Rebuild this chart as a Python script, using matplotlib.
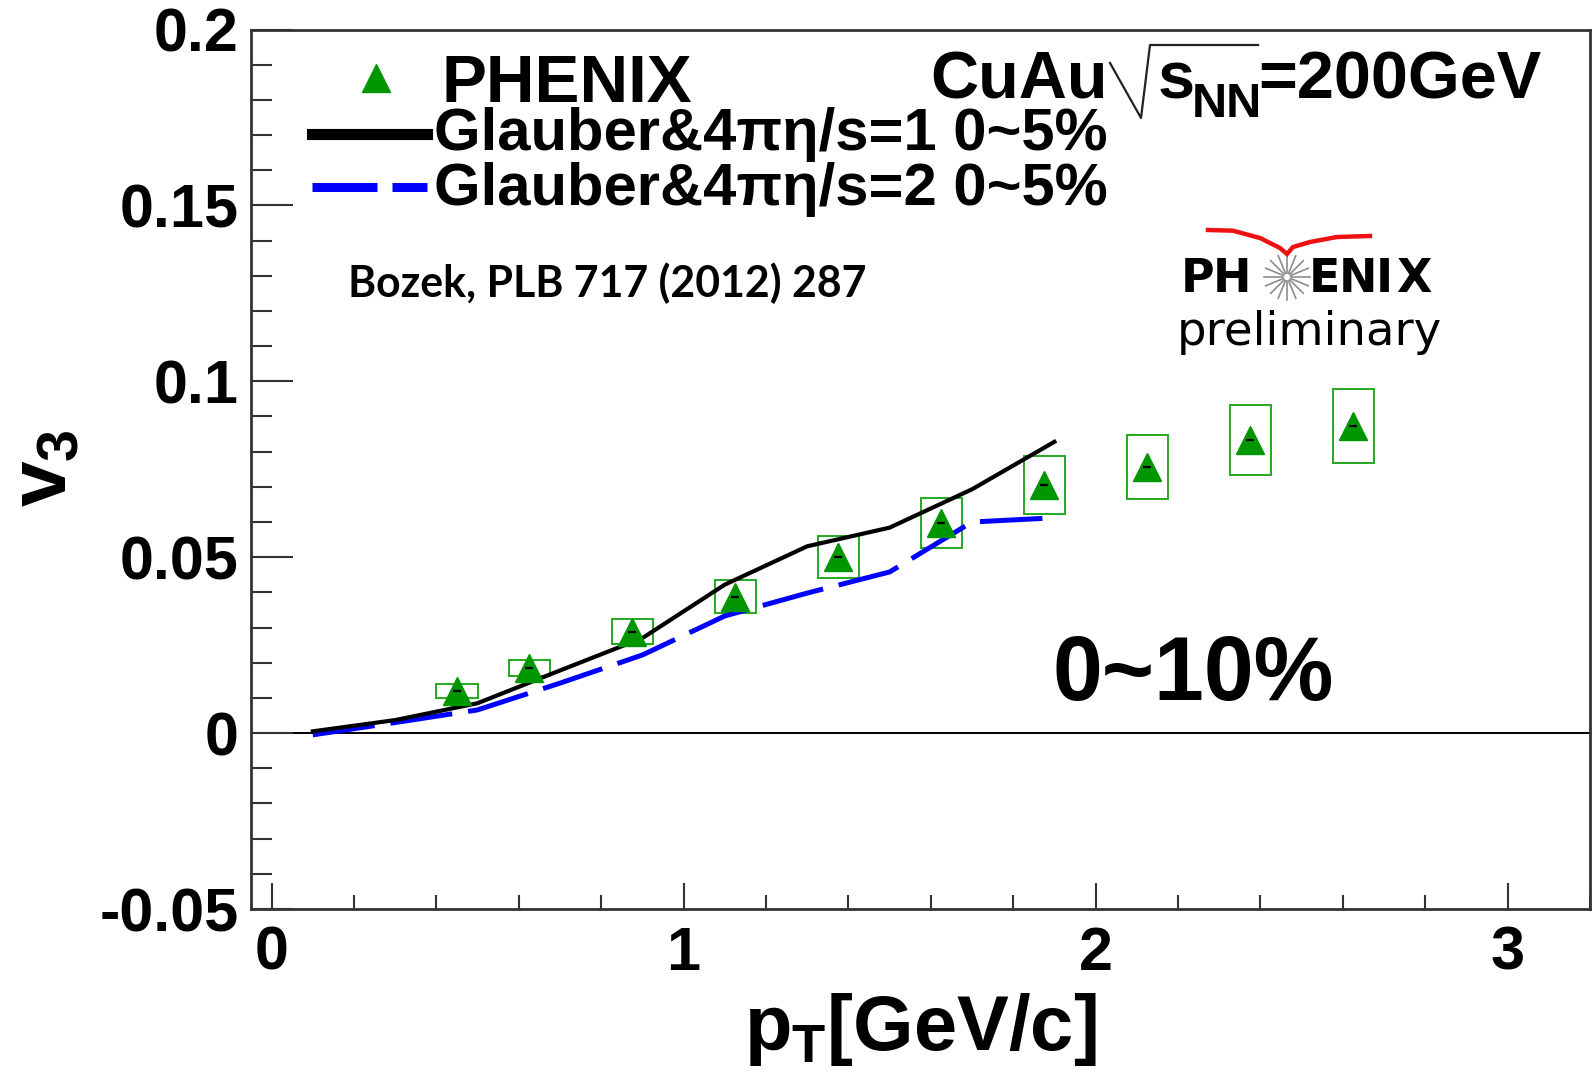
import numpy as np
import matplotlib
matplotlib.use('Agg')
import matplotlib.pyplot as plt
from matplotlib.patches import Rectangle
from matplotlib.lines import Line2D
from matplotlib.ticker import MultipleLocator

plt.rcParams['font.family'] = ['Liberation Sans', 'DejaVu Sans']
plt.rcParams['font.weight'] = 'bold'
plt.rcParams['mathtext.fontset'] = 'custom'
plt.rcParams['mathtext.rm'] = 'Liberation Sans:bold'
plt.rcParams['mathtext.it'] = 'Liberation Sans:bold'
plt.rcParams['mathtext.bf'] = 'Liberation Sans:bold'
plt.rcParams['mathtext.sf'] = 'Liberation Sans:bold'

# PHENIX CuAu v3, 0~10%
ptData = [0.45, 0.625, 0.875, 1.125, 1.375, 1.625, 1.875, 2.125, 2.375, 2.625]
v3Data = [0.0120, 0.0185, 0.0288, 0.0388, 0.0501, 0.0597, 0.0705, 0.0756, 0.0834, 0.0872]
v3Sys = [0.0019, 0.0023, 0.0035, 0.0047, 0.0059, 0.0071, 0.0083, 0.0090, 0.0100, 0.0105]
boxHalfWidth = 0.05

# Bozek hydro, Glauber 0~5%
ptTheory = [0.1, 0.3, 0.5, 0.7, 0.9, 1.1, 1.3, 1.5, 1.7, 1.9]
v3Eta1 = [0.0005, 0.0037, 0.0085, 0.0178, 0.0270, 0.0422, 0.0531, 0.0584, 0.0693, 0.0828]
v3Eta2 = [-0.0005, 0.0030, 0.0066, 0.0142, 0.0222, 0.0333, 0.0398, 0.0458, 0.0600, 0.0612]

xTicks = [0, 1, 2, 3]
yTicks = [-0.05, 0, 0.05, 0.1, 0.15, 0.2]
yTickLabels = ['-0.05', '0', '0.05', '0.1', '0.15', '0.2']

W, H = 1593, 1077
green = '#009600'
boxGreen = '#22aa22'


def px(x, y):
    # pixel position (from top left) -> figure fraction
    return x / W, 1 - y / H


def figline(xs, ys, **kw):
    pts = [px(a, b) for a, b in zip(xs, ys)]
    fig.add_artist(Line2D([p[0] for p in pts], [p[1] for p in pts],
                          transform=fig.transFigure, **kw))


fig = plt.figure(figsize=(W / 100, H / 100), dpi=100)
ax = fig.add_axes([251 / W, 1 - 909 / H, (1590 - 251) / W, (909 - 29.5) / H])
ax.set_xlim(-0.05, 3.2)
ax.set_ylim(-0.05, 0.2)

for s in ax.spines.values():
    s.set_linewidth(2)
    s.set_color('#333333')

ax.set_xticks(xTicks)
ax.set_xticklabels([str(t) for t in xTicks])
ax.set_yticks(yTicks)
ax.set_yticklabels(yTickLabels)
ax.xaxis.set_minor_locator(MultipleLocator(0.2))
ax.yaxis.set_minor_locator(MultipleLocator(0.01))
ax.tick_params(axis='both', which='both', direction='in', color='#333333', width=1.5,
               labelsize=44, top=False, right=False)
ax.tick_params(axis='y', which='major', length=30, pad=9)
ax.tick_params(axis='y', which='minor', length=15)
ax.tick_params(axis='x', which='major', length=19, pad=12)
ax.tick_params(axis='x', which='minor', length=10)

ax.axhline(0, color='black', lw=1.4, zorder=1)

# systematic boxes
for x, y, e in zip(ptData, v3Data, v3Sys):
    ax.add_patch(Rectangle((x - boxHalfWidth, y - e), 2 * boxHalfWidth, 2 * e,
                           fill=False, edgecolor=boxGreen, lw=1.4, zorder=2))

ax.plot(ptTheory, v3Eta2, color='#0000ff', lw=3.6, dashes=(12.5, 3.2), zorder=3)
ax.plot(ptTheory, v3Eta1, color='black', lw=3, zorder=4)

ax.plot(ptData, v3Data, ls='none', marker='^', ms=19.5, color=green, mec=green, zorder=5)
ax.plot(ptData, v3Data, ls='none', marker='_', ms=5.5, mew=1.6, color='black', zorder=6)

# axis titles
fig.text(*px(1097, 1050), r'$p_{T}$[GeV/c]', fontsize=56, ha='right', va='baseline')
fig.text(*px(46, 430), r'$v_{3}$', fontsize=59, rotation=90, ha='center', va='top')

# legend
fig.add_artist(Line2D([px(375.5, 0)[0]], [px(0, 78)[1]], marker='^', ms=19.5, color=green,
                      transform=fig.transFigure))
fig.text(*px(441, 102), 'PHENIX', fontsize=48.5, ha='left', va='baseline')
figline([312, 427], [134, 134], color='black', lw=8)
fig.text(*px(434, 150), 'Glauber&4πη/s=1 0~5%', fontsize=43, ha='left', va='baseline')
figline([312, 427], [187, 187], color='#0000ff', lw=6.5, dashes=(7.2, 1.66))
fig.text(*px(434, 205), 'Glauber&4πη/s=2 0~5%', fontsize=43, ha='left', va='baseline')

# CuAu sqrt(s_NN)=200GeV
fig.text(*px(930, 99), 'CuAu', fontsize=48, ha='left', va='baseline')
figline([1110, 1141, 1150, 1258], [63, 118, 45, 45], color='#222222', lw=1.6)
fig.text(*px(1158, 99), 's', fontsize=48, ha='left', va='baseline')
fig.text(*px(1192, 117), 'NN', fontsize=35, ha='left', va='baseline')
fig.text(*px(1258, 99), '=200GeV', fontsize=48, ha='left', va='baseline')

fig.text(*px(348, 297), 'Bozek, PLB 717 (2012) 287', fontsize=30.8, family='Lato',
         weight='bold', ha='left', va='baseline')

fig.text(*px(1052, 700), '0~10%', fontsize=64.5, ha='left', va='baseline')

# PHENIX preliminary logo
for letter, lx in zip(['P', 'H', 'E', 'N', 'I', 'X'], [1181, 1213, 1309, 1339, 1376, 1396]):
    fig.text(*px(lx, 292), letter, fontsize=33, family='DejaVu Sans', weight='bold',
             ha='left', va='baseline')
fig.text(*px(1177, 345), 'preliminary', fontsize=33.5, family='DejaVu Sans', weight='normal',
         ha='left', va='baseline')
cx, cy = 1287, 277
for a in np.linspace(0, 2 * np.pi, 16, endpoint=False):
    figline([cx + 4 * np.cos(a), cx + 23 * np.cos(a)], [cy + 4 * np.sin(a), cy + 23 * np.sin(a)],
            color='#8c8c8c', lw=1.2)
figline([1208, 1233, 1260, 1280, 1287, 1293, 1310, 1337, 1370],
        [230, 230.7, 238, 248, 254, 247, 242, 237, 236],
        color='#ee1111', lw=3.2, solid_joinstyle='miter')

fig.savefig('out.png', dpi=100)
